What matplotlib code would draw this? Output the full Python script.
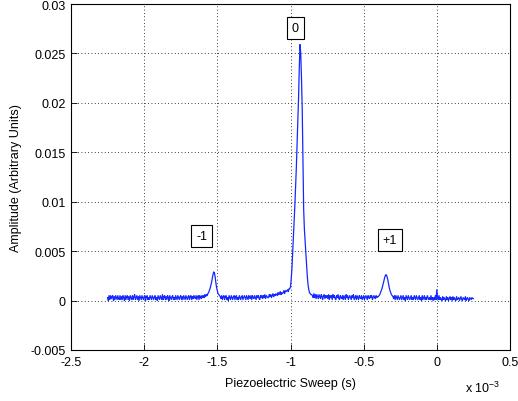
import numpy as np
import matplotlib
matplotlib.use("Agg")
import matplotlib.pyplot as plt

plt.rcParams['font.family'] = ['Liberation Sans', 'DejaVu Sans']
plt.rcParams['mathtext.fontset'] = 'custom'
plt.rcParams['mathtext.rm'] = 'Liberation Sans'
plt.rcParams['mathtext.it'] = 'Liberation Sans'

# Sweep axis (units of 1e-3 s), sampled every 0.005e-3 s
sweep_start = -2.25
sweep_step = 0.005

# Amplitude in units of 1e-4 (arbitrary units), one row = 20 samples (0.1e-3 s)
amplitude_e4 = [
    3, 0, 5, 1, 5, 2, 4, 5, 0, 4, 1, 5, 3, 1, 5, 2, 1, 5, 1, 4,
    1, 5, 3, 0, 5, 1, 4, 5, 1, 4, 0, 5, 3, 1, 5, 1, 4, 6, 1, 3,
    5, 1, 4, 0, 5, 3, 1, 5, 3, 1, 4, 5, 0, 4, 5, 1, 3, 1, 5, 3,
    1, 5, 3, 1, 4, 5, 1, 3, 0, 5, 3, 1, 5, 3, 1, 6, 1, 4, 5, 1,
    4, 1, 5, 3, 0, 5, 3, 1, 4, 5, 1, 3, 1, 5, 3, 1, 5, 3, 1, 4,
    5, 1, 4, 1, 5, 3, 1, 5, 3, 1, 4, 5, 1, 4, 5, 1, 4, 2, 5, 3,
    2, 5, 1, 4, 5, 1, 5, 3, 2, 5, 3, 5, 3, 6, 4, 6, 5, 7, 8, 10,
    12, 15, 18, 22, 26, 29, 28, 24, 18, 13, 10, 7, 6, 5, 4, 2, 5, 1, 4, 5,
    1, 4, 5, 1, 3, 0, 5, 3, 1, 5, 3, 1, 4, 5, 1, 4, 5, 1, 3, 1,
    5, 3, 1, 4, 5, 1, 3, 5, 3, 1, 5, 3, 1, 5, 3, 2, 5, 1, 5, 3,
    2, 5, 3, 1, 5, 3, 5, 2, 1, 5, 3, 5, 2, 5, 3, 6, 2, 5, 4, 3,
    3, 6, 4, 6, 3, 5, 7, 4, 6, 5, 7, 6, 5, 8, 6, 7, 9, 6, 8, 7,
    8, 10, 7, 10, 9, 10, 11, 9, 12, 12, 14, 22, 33, 50, 65, 80, 97, 115, 135, 158,
    182, 205, 235, 259, 250, 225, 195, 140, 92, 72, 60, 47, 35, 24, 16, 11, 8, 7, 6, 6,
    5, 3, 7, 3, 6, 2, 6, 4, 2, 6, 4, 2, 6, 4, 1, 5, 6, 2, 5, 3,
    5, 2, 6, 1, 5, 3, 5, 1, 6, 3, 5, 2, 1, 5, 3, 6, 2, 1, 5, 3,
    2, 5, 1, 5, 3, 1, 6, 3, 5, 1, 3, 5, 3, 1, 5, 3, 6, 1, 3, 5,
    1, 5, 3, 1, 5, 3, 2, 5, 1, 3, 5, 1, 3, 5, 3, 1, 5, 3, 2, 5,
    3, 5, 1, 3, 5, 3, 2, 5, 3, 4, 4, 5, 6, 8, 10, 12, 15, 18, 21, 24,
    26, 26, 24, 21, 17, 13, 10, 8, 6, 5, 4, 2, 5, 1, 5, 3, 1, 5, 3, 1,
    3, 5, 1, 3, 5, 1, 3, 0, 5, 3, 1, 5, 3, 1, 3, 5, 1, 3, 1, 5,
    3, 1, 5, 3, 1, 3, 5, 1, 3, 0, 5, 1, 3, 5, 1, 3, 1, 5, 3, 1,
    3, 1, 5, 1, 3, 0, 3, 1, 5, 1, 11, 3, 1, 5, 1, 3, 1, 0, 4, 1,
    3, 1, 0, 4, 1, 3, 0, 2, 4, 1, 3, 0, 4, 1, 3, 1, 0, 4, 1, 2,
    3, 0, 2, 4, 1, 0, 3, 2, 1, 4, 0, 2, 3, 1, 0, 3, 2, 1, 3, 2,
    2,
]

# Annotation labels (diffraction orders) and their anchor positions
order_labels = ['-1', '0', '+1']
order_label_x = [-1.645, -0.99, -0.37]
order_label_y = [0.0065, 0.0276, 0.0061]

xticks = [-2.5, -2, -1.5, -1, -0.5, 0, 0.5]
xtick_labels = ['-2.5', '-2', '-1.5', '-1', '-0.5', '0', '0.5']
yticks = [-0.005, 0, 0.005, 0.01, 0.015, 0.02, 0.025, 0.03]
ytick_labels = ['-0.005', '0', '0.005', '0.01', '0.015', '0.02', '0.025', '0.03']

amp = np.array(amplitude_e4, dtype=float) * 1e-4
sweep = sweep_start + sweep_step * np.arange(len(amp))

fig = plt.figure(figsize=(5.18, 4.02), dpi=100)
ax = fig.add_axes([71 / 518, (402 - 351) / 402, (510 - 71) / 518, (351 - 5) / 402])

ax.plot(sweep, amp, color='#1428ff', lw=0.9)

ax.set_xlim(-2.5, 0.5)
ax.set_ylim(-0.005, 0.03)
ax.set_xticks(xticks)
ax.set_xticklabels(xtick_labels)
ax.set_yticks(yticks)
ax.set_yticklabels(ytick_labels)
ax.tick_params(direction='in', length=4, width=0.6, labelsize=9, colors='black', pad=4)
ax.grid(True, linestyle=(0, (1, 3)), color='black', lw=0.6)
for s in ax.spines.values():
    s.set_linewidth(0.8)
    s.set_color('black')

ax.set_xlabel('Piezoelectric Sweep (s)', fontsize=9, labelpad=7)
ax.set_ylabel('Amplitude (Arbitrary Units)', fontsize=9, labelpad=6)

for lab, lx, ly in zip(order_labels, order_label_x, order_label_y):
    ax.text(lx, ly, lab, fontsize=9, ha='left', va='center',
            bbox=dict(boxstyle='square,pad=0.4', fc='white', ec='black', lw=0.8))

fig.text(465 / 518, 1 - 393 / 402, r'x 10$^{-3}$', fontsize=9, ha='left', va='baseline')

fig.savefig('out.png', dpi=100)
